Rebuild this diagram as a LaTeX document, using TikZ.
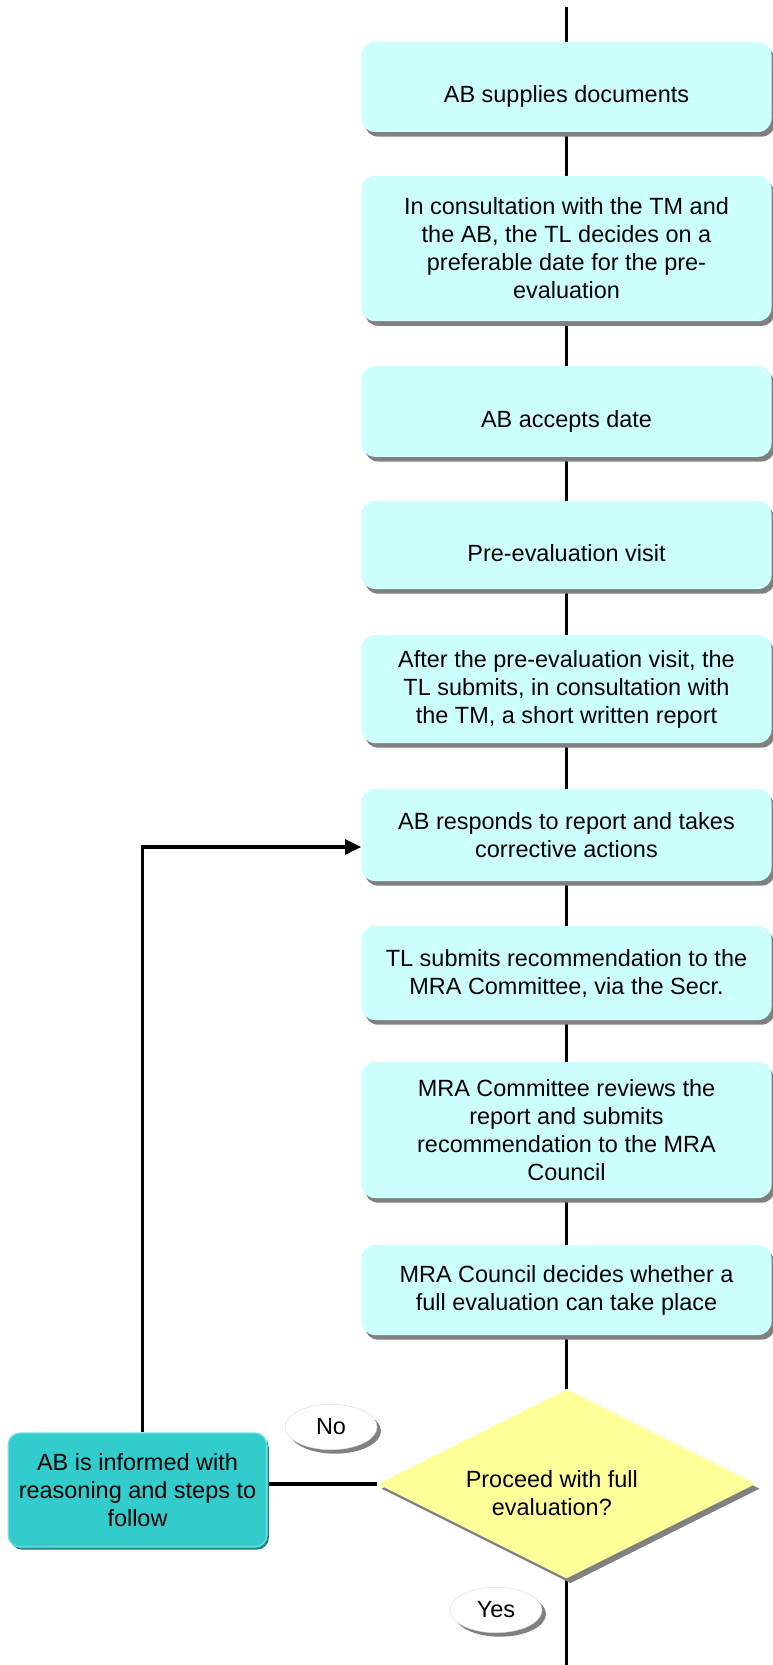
\documentclass[tikz,border=0pt]{standalone}
\usepackage{fontspec}
\setmainfont{Liberation Sans}
\usetikzlibrary{shapes.geometric,shadows,arrows.meta,backgrounds}
\definecolor{boxfill}{rgb}{0.8,1,1}
\definecolor{askfill}{rgb}{1,1,0.6}
\definecolor{notefill}{rgb}{0.2,0.8,0.8}
\definecolor{noteedge}{rgb}{0.12,0.52,0.52}
\definecolor{notelight}{rgb}{0.45,0.88,0.88}
\definecolor{shade}{rgb}{0.5,0.5,0.5}

\begin{document}
\begin{tikzpicture}[x=0.75pt,y=-0.75pt,
  every node/.style={font=\fontsize{17.6}{21}\selectfont},
  link/.style={line width=2.4pt},
  stepbox/.style={rectangle, rounded corners=10pt, fill=boxfill, align=center,
    minimum width=307.5pt, inner sep=0pt,
    drop shadow={shadow xshift=2.5pt, shadow yshift=-3.5pt, fill=shade, opacity=1}},
  oneline/.style={text height=24pt, text depth=0pt},
  decision/.style={diamond, aspect=2, fill=askfill, inner sep=0pt,
    minimum width=283.5pt, minimum height=141.75pt,
    drop shadow={shadow xshift=3pt, shadow yshift=-3.5pt, fill=shade, opacity=1}},
  notebox/.style={rectangle, rounded corners=9pt, fill=notefill, draw=notelight,
    line width=1pt, align=center, inner sep=0pt,
    minimum width=194pt, minimum height=85.5pt,
    drop shadow={shadow xshift=1.5pt, shadow yshift=-2pt, fill=noteedge, opacity=1}},
  tag/.style={ellipse, fill=white, draw=gray!25, line width=0.4pt, inner sep=0pt,
    minimum width=69pt, minimum height=34pt,
    drop shadow={shadow xshift=3pt, shadow yshift=-3pt, fill=shade, opacity=1}}]
\useasboundingbox (0,0) rectangle (772,1665);

%Shape: Rounded Rect [b1]
\node (b1) [stepbox, oneline, minimum height=67.5pt] at (566.5,87) {AB supplies documents};
%Shape: Rounded Rect [b2]
\node (b2) [stepbox, minimum height=109pt] at (566.5,248.5) {In consultation with the TM and\\the AB, the TL decides on a\\preferable date for the pre-\\evaluation};
%Shape: Rounded Rect [b3]
\node (b3) [stepbox, oneline, minimum height=68pt] at (566.5,411.5) {AB accepts date};
%Shape: Rounded Rect [b4]
\node (b4) [stepbox, oneline, minimum height=66pt] at (566.5,545) {Pre-evaluation visit};
%Shape: Rounded Rect [b5]
\node (b5) [stepbox, minimum height=81pt] at (566.5,689) {After the pre-evaluation visit, the\\TL submits, in consultation with\\the TM, a short written report};
%Shape: Rounded Rect [b6]
\node (b6) [stepbox, minimum height=69pt] at (566.5,835) {AB responds to report and takes\\corrective actions};
%Shape: Rounded Rect [b7]
\node (b7) [stepbox, minimum height=70.5pt] at (566.5,973) {TL submits recommendation to the\\MRA Committee, via the Secr.};
%Shape: Rounded Rect [b8]
\node (b8) [stepbox, minimum height=102pt] at (566.5,1130) {MRA Committee reviews the\\report and submits\\recommendation to the MRA\\Council};
%Shape: Rounded Rect [b9]
\node (b9) [stepbox, minimum height=67.5pt] at (566.5,1290) {MRA Council decides whether a\\full evaluation can take place};

%Shape: Diamond [dec]
\node (dec) [decision, label={[align=center, xshift=-11pt, yshift=-7pt]center:{Proceed with full\\evaluation?}}] at (566.5,1484) {};
%Shape: Rounded Rect [inf]
\node (inf) [notebox] at (137.5,1490) {AB is informed with\\reasoning and steps to\\follow};

% Text Node
\node (no) [tag] at (331,1427) {No};
% Text Node
\node (yes) [tag] at (496,1610) {Yes};

\coordinate (start) at (566.5,7);
\coordinate (finish) at (566.5,1665);

\begin{scope}[on background layer]
% Connector
\draw [link] (start) -- (b1);
\foreach \a/\b in {b1/b2,b2/b3,b3/b4,b4/b5,b5/b6,b6/b7,b7/b8,b8/b9,b9/dec}
  \draw [link] (\a) -- (\b);
\draw [link] (dec) -- (finish);
\draw [link] (dec.west) -- (inf.east |- dec.west);
\end{scope}
% Connector
\draw [link, -{Triangle[length=12pt,width=11pt]}] ([xshift=4pt]inf.north) |- ([yshift=-9pt]b6.west);

\end{tikzpicture}
\end{document}
